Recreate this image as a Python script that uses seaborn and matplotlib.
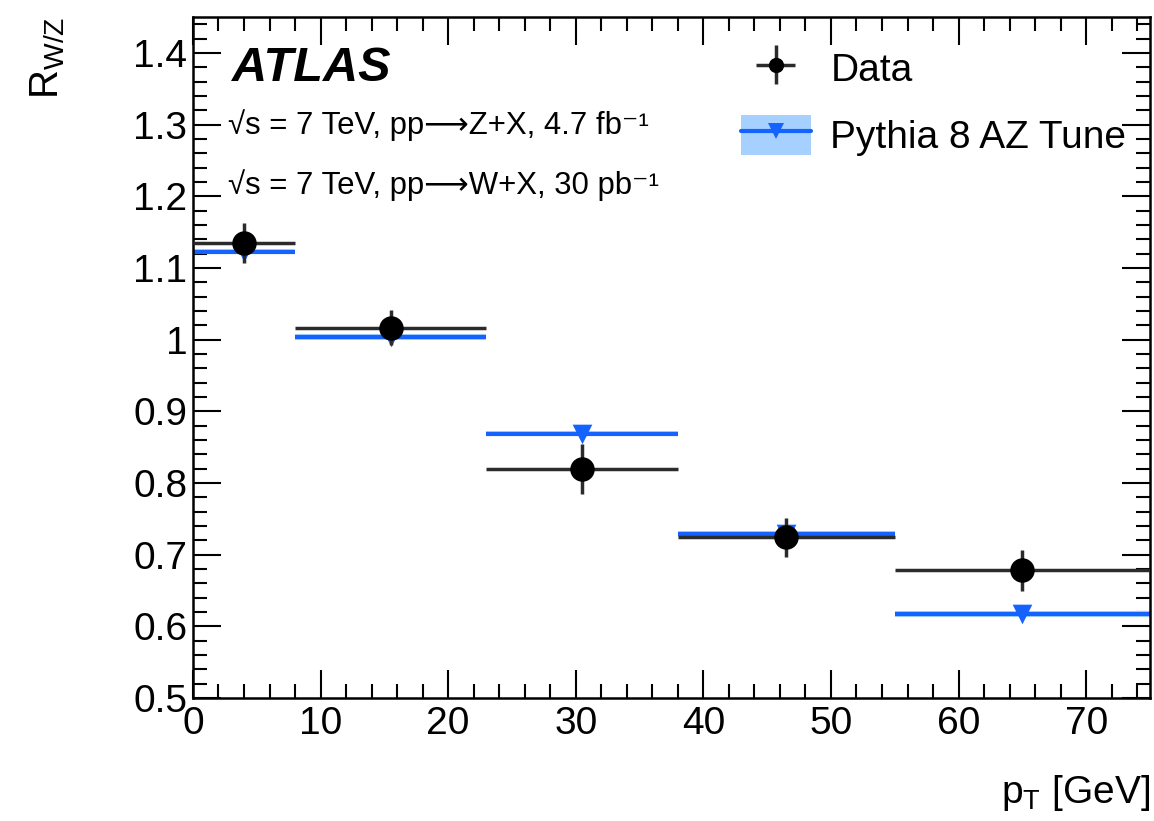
import numpy as np
import pandas as pd
import seaborn as sns
import matplotlib.pyplot as plt
from matplotlib.patches import Patch
from matplotlib.lines import Line2D
from matplotlib.ticker import MultipleLocator

# === Données ===
bin_edges = [0, 8, 23, 38, 55, 75]
data_x = [4, 15.5, 30.5, 46.5, 65]
data_y = [1.135, 1.017, 0.820, 0.724, 0.678]
data_err = [0.028, 0.024, 0.035, 0.027, 0.028]
mc_y = [1.123, 1.004, 0.869, 0.729, 0.617]
mc_err = [0.004, 0.004, 0.004, 0.004, 0.004]

lo = np.array(bin_edges[:-1])
hi = np.array(bin_edges[1:])
df = pd.DataFrame({
    "x": data_x, "lo": lo, "hi": hi,
    "data": data_y, "err": data_err,
    "mc": mc_y, "mc_err": mc_err,
})

sns.set_theme(style="ticks")
plt.rcParams["font.family"] = ["Liberation Sans", "DejaVu Sans"]
plt.rcParams["text.color"] = "black"
plt.rcParams["axes.labelcolor"] = "black"
plt.rcParams["mathtext.fontset"] = "custom"
plt.rcParams["mathtext.rm"] = "Liberation Sans"
plt.rcParams["mathtext.it"] = "Liberation Sans:italic"
plt.rcParams["mathtext.default"] = "regular"

blue = "#1463ff"
band = "#a6d0ff"

fig = plt.figure(figsize=(11.54, 8.21), dpi=100)
ax = fig.add_axes([0.1672, 0.1498, 0.8293, 0.8292])

# bande d'incertitude MC
ax.bar(df["lo"], 2 * df["mc_err"], width=df["hi"] - df["lo"],
       bottom=df["mc"] - df["mc_err"], align="edge", color=band,
       linewidth=0, zorder=1)
ax.hlines(df["mc"], df["lo"], df["hi"], color=blue, lw=3, zorder=2)
sns.scatterplot(data=df, x="x", y="mc", marker="v", s=200, color=blue,
                edgecolor=blue, linewidth=0, ax=ax, zorder=3, legend=False)

# données
cont = ax.errorbar(df["x"], df["data"], yerr=df["err"],
                   xerr=[df["x"] - df["lo"], df["hi"] - df["x"]],
                   fmt="none", ecolor="#2b2b2b", elinewidth=2.5, capsize=0,
                   zorder=4)
sns.scatterplot(data=df, x="x", y="data", marker="o", s=310, color="black",
                edgecolor="black", linewidth=0, ax=ax, zorder=5, legend=False)

ax.set_xlim(0, 75)
ax.set_ylim(0.5, 1.45)
ax.xaxis.set_major_locator(MultipleLocator(10))
ax.xaxis.set_minor_locator(MultipleLocator(2))
ax.yaxis.set_major_locator(MultipleLocator(0.1))
ax.yaxis.set_minor_locator(MultipleLocator(0.02))
ax.yaxis.set_major_formatter(plt.FuncFormatter(lambda v, p: f"{v:g}"))
ax.tick_params(which="both", direction="in", top=True, right=True,
               labelsize=28, width=1.5, colors="black")
ax.tick_params(which="major", length=20)
ax.tick_params(axis="x", which="major", pad=6)
ax.tick_params(axis="y", which="major", pad=4)
ax.tick_params(which="minor", length=10)
for s in ax.spines.values():
    s.set_linewidth(1.8)
    s.set_color("black")

ax.set_xlabel("p$_{T}$ [GeV]", fontsize=28, loc="right", labelpad=22)
ax.set_ylabel("R$_{W/Z}$", fontsize=29, loc="top", labelpad=48)

ax.text(0.041, 0.925, "ATLAS", transform=ax.transAxes, fontsize=35,
        fontweight="bold", fontstyle="italic", va="center")
ax.text(0.037, 0.841, "√s = 7 TeV, pp⟶Z+X, 4.7 fb⁻¹",
        transform=ax.transAxes, fontsize=22.4, va="center")
ax.text(0.037, 0.753, "√s = 7 TeV, pp⟶W+X, 30 pb⁻¹",
        transform=ax.transAxes, fontsize=22.4, va="center")

data_handle = (cont, Line2D([], [], color="black", ls="none", marker="o",
                            markersize=11, markeredgewidth=0))
mc_handle = (Patch(facecolor=band, edgecolor="none"),
             Line2D([], [], color=blue, lw=3, marker="v", markersize=12,
                    markeredgewidth=0))
ax.legend([data_handle, mc_handle], ["Data", "Pythia 8 AZ Tune"],
          loc="upper left", bbox_to_anchor=(0.54, 1.0), frameon=False,
          fontsize=28, handlelength=1.8, handleheight=1.2,
          labelspacing=0.65, handletextpad=0.5, borderaxespad=0.4)

fig.savefig("out.png", dpi=100)
